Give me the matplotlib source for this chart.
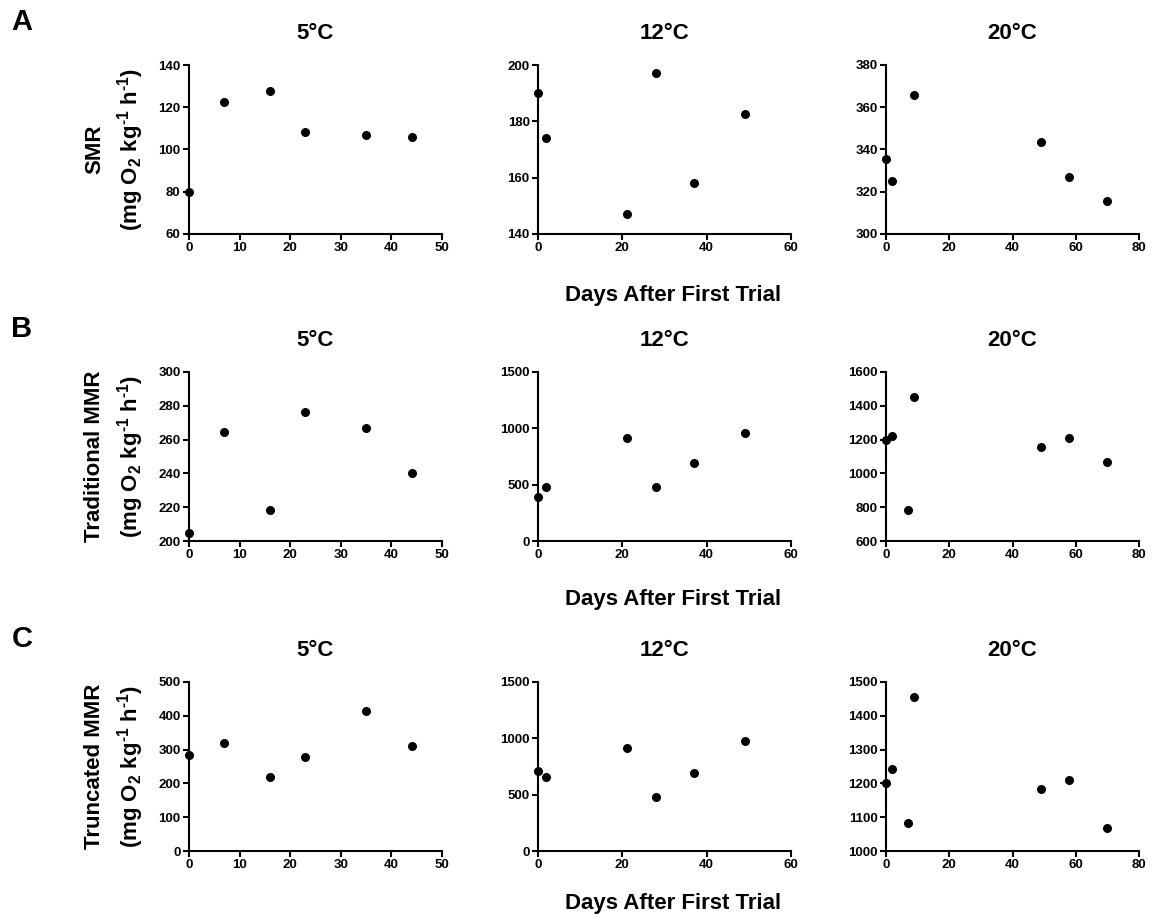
import matplotlib
matplotlib.use("Agg")
import matplotlib.pyplot as plt

plt.rcParams['font.family'] = ['Liberation Sans', 'DejaVu Sans']
plt.rcParams['font.weight'] = 'bold'
plt.rcParams['mathtext.fontset'] = 'custom'
plt.rcParams['mathtext.rm'] = 'Liberation Sans:bold'
plt.rcParams['mathtext.bf'] = 'Liberation Sans:bold'
plt.rcParams['mathtext.it'] = 'Liberation Sans:bold'
plt.rcParams['mathtext.default'] = 'bf'

temps = ['5°C', '12°C', '20°C']
rows = ['A', 'B', 'C']
ylabels = ['SMR', 'Traditional MMR', 'Truncated MMR']
unit = r'(mg O$_2$ kg$^{\text{-1}}$ h$^{\text{-1}}$)'

# days after first trial
days_5 = [0, 7, 16, 23, 35, 44]
days_12 = [0, 2, 21, 28, 37, 49]
days_20_smr = [0, 2, 9, 49, 58, 70]
days_20_mmr = [0, 2, 7, 9, 49, 58, 70]

# SMR
smr_5 = [80, 122.5, 127.5, 108.5, 107, 106]
smr_12 = [190, 174, 147, 197, 158, 182.5]
smr_20 = [335.5, 325, 366, 343.5, 327, 315.7]

# traditional MMR
trad_5 = [205, 264.5, 218.5, 276.5, 267, 240.5]
trad_12 = [390, 480, 915, 475, 695, 955]
trad_20 = [1200, 1222, 785, 1455, 1158, 1210, 1068]

# truncated MMR
trunc_5 = [283, 320, 218, 277, 413, 311]
trunc_12 = [710, 660, 915, 475, 695, 975]
trunc_20 = [1200, 1242, 1082, 1457, 1184, 1210, 1067]

data = [
    [(days_5, smr_5), (days_12, smr_12), (days_20_smr, smr_20)],
    [(days_5, trad_5), (days_12, trad_12), (days_20_mmr, trad_20)],
    [(days_5, trunc_5), (days_12, trunc_12), (days_20_mmr, trunc_20)],
]

ylims = [[(60, 140, 20), (140, 200, 20), (300, 380, 20)],
         [(200, 300, 20), (0, 1500, 500), (600, 1600, 200)],
         [(0, 500, 100), (0, 1500, 500), (1000, 1500, 100)]]
xlims = [(50, 10), (60, 20), (80, 20)]

W, H = 1159, 917
fig = plt.figure(figsize=(W / 100, H / 100), dpi=100)

col_left = [189, 538, 886]
col_w = 253
row_top = [65, 372, 682]
row_h = 169

for r in range(3):
    for c in range(3):
        ax = fig.add_axes([col_left[c] / W, 1 - (row_top[r] + row_h) / H, col_w / W, row_h / H])
        x, y = data[r][c]
        ax.scatter(x, y, s=30, color='black', zorder=3, clip_on=False)
        y0, y1, ys = ylims[r][c]
        ax.set_ylim(y0, y1)
        ax.set_yticks(range(y0, y1 + 1, ys))
        xm, xs = xlims[c]
        ax.set_xlim(0, xm)
        ax.set_xticks(range(0, xm + 1, xs))
        for s in ['top', 'right']:
            ax.spines[s].set_visible(False)
        for s in ['left', 'bottom']:
            ax.spines[s].set_linewidth(1.5)
        ax.tick_params(width=1.5, length=4, labelsize=9.5, pad=2)
        for lab in ax.get_xticklabels() + ax.get_yticklabels():
            lab.set_fontweight('bold')
        ax.set_title(temps[c], fontsize=16, fontweight='bold', pad=19)

    cy = 1 - (row_top[r] + row_h / 2) / H
    fig.text(95 / W, cy, ylabels[r], rotation=90, ha='center', va='center',
             fontsize=16, fontweight='bold')
    fig.text(131 / W, cy, unit, rotation=90, ha='center', va='center',
             fontsize=16, fontweight='bold')
    fig.text(22 / W, 1 - (row_top[r] - 43) / H, rows[r], ha='center', va='center',
             fontsize=21, fontweight='bold')

label_y = [295, 600, 903]
for ly in label_y:
    fig.text(673 / W, 1 - ly / H, 'Days After First Trial', ha='center', va='center',
             fontsize=16, fontweight='bold')

plt.savefig('out.png', dpi=100)
